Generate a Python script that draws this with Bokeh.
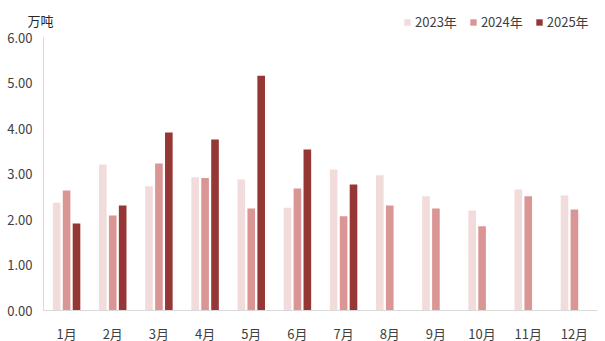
from bokeh.plotting import figure
from bokeh.models import ColumnDataSource, Range1d, Legend, LegendItem, NumeralTickFormatter, FixedTicker, Label
from bokeh.transform import dodge
from bokeh.embed import file_html
from bokeh.resources import INLINE

months = ["1月", "2月", "3月", "4月", "5月", "6月", "7月", "8月", "9月", "10月", "11月", "12月"]
y2023 = [2.37, 3.21, 2.73, 2.93, 2.88, 2.26, 3.10, 2.97, 2.51, 2.20, 2.66, 2.53]
y2024 = [2.64, 2.09, 3.23, 2.91, 2.24, 2.68, 2.07, 2.31, 2.24, 1.85, 2.51, 2.22]
y2025 = [1.91, 2.31, 3.91, 3.76, 5.16, 3.54, 2.77, None, None, None, None, None]
series = ["2023年", "2024年", "2025年"]
colors = ["#F2DCDB", "#D99694", "#953735"]
yticks = [0, 1, 2, 3, 4, 5, 6]
unit_text = "万吨"

FONT = "Noto Sans CJK SC"
TXT = "#404040"

W, H = 605, 341
# plot region in pixels: x 43..597, y 37 (6.00) .. 310 (0.00)
n = len(months)
cw = (597 - 43) / n
uy = (310 - 37) / 6
x_range = Range1d(-0.5 - 43 / cw, n - 0.5 + (W - 597) / cw)
y_range = Range1d(-(H - 310) / uy, 6 + 37 / uy)

idx = list(range(n))
src = ColumnDataSource(dict(i=idx, a=y2023, b=y2024,
                            c=[v if v is not None else float("nan") for v in y2025]))

p = figure(width=W, height=H, x_range=x_range, y_range=y_range,
           output_backend="svg", toolbar_location=None,
           min_border=0)

renderers = []
for key, off, col in zip(["a", "b", "c"], [-0.215, 0.0, 0.215], colors):
    r = p.vbar(x=dodge("i", off), top=key, width=0.165, source=src,
               fill_color=col, line_color=None)
    renderers.append(r)

p.xgrid.grid_line_color = None
p.ygrid.grid_line_color = None
p.outline_line_color = None
p.background_fill_color = "white"
p.border_fill_color = "white"

p.yaxis.ticker = FixedTicker(ticks=yticks)
p.yaxis.formatter = NumeralTickFormatter(format="0.00")
p.yaxis.bounds = (0, 6)
p.yaxis.fixed_location = -0.5
p.xaxis.ticker = FixedTicker(ticks=idx)
p.xaxis.major_label_overrides = {i: m for i, m in zip(idx, months)}
p.xaxis.bounds = (-0.5, n - 0.5)
p.xaxis.fixed_location = 0
for ax in (p.xaxis, p.yaxis):
    ax.axis_line_color = "#D9D9D9"
    ax.major_tick_line_color = None
    ax.minor_tick_line_color = None
    ax.major_label_text_font = FONT
    ax.major_label_text_font_size = "13px"
    ax.major_label_text_color = TXT
p.yaxis.major_label_standoff = 5
p.xaxis.major_label_standoff = 7

unit = Label(x=27, y=H - 20, x_units="screen", y_units="screen", text=unit_text,
             text_font=FONT, text_font_size="13px", text_color="#262626",
             text_baseline="middle")
p.add_layout(unit)

items = [LegendItem(label=s, renderers=[r]) for s, r in zip(series, renderers)]
legend = Legend(items=items, orientation="horizontal", location=(403, H - 31),
                label_text_font=FONT, label_text_font_size="13px", label_text_color=TXT,
                glyph_width=8, glyph_height=8, spacing=12, label_standoff=4,
                background_fill_alpha=0, border_line_color=None, padding=0, margin=0,
                label_height=14)
p.add_layout(legend, "center")

open("out.html", "w").write(file_html(p, INLINE))
